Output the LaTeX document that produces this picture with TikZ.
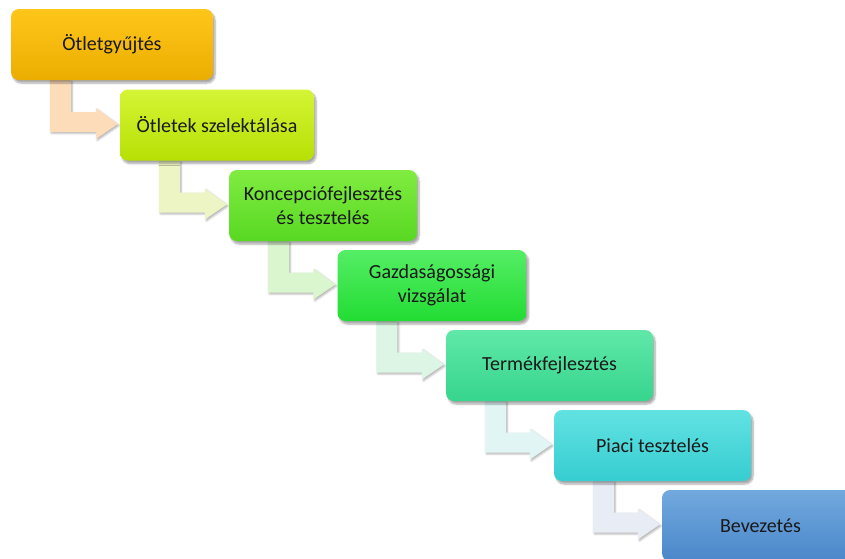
\documentclass[tikz,border=0pt]{standalone}
\usepackage{fontspec}
\setmainfont{Carlito}
\usetikzlibrary{calc,shadows.blur}

% stage fills (top / bottom of the gradient)
\definecolor{s1t}{HTML}{FFC61A}\definecolor{s1b}{HTML}{EBAE00}
\definecolor{s2t}{HTML}{D4F535}\definecolor{s2b}{HTML}{B7E005}
\definecolor{s3t}{HTML}{80EC40}\definecolor{s3b}{HTML}{58D823}
\definecolor{s4t}{HTML}{55EE65}\definecolor{s4b}{HTML}{22DC33}
\definecolor{s5t}{HTML}{60E8A8}\definecolor{s5b}{HTML}{36D58D}
\definecolor{s6t}{HTML}{62E2E2}\definecolor{s6b}{HTML}{36CDD1}
\definecolor{s7t}{HTML}{72A9DE}\definecolor{s7b}{HTML}{4A87CA}
% bent connector fills
\definecolor{a1}{HTML}{FDDDB9}
\definecolor{a2}{HTML}{EEF5C5}
\definecolor{a3}{HTML}{DAF6CF}
\definecolor{a4}{HTML}{DDF5E4}
\definecolor{a5}{HTML}{E1F5F5}
\definecolor{a6}{HTML}{E8ECF5}

\pgfdeclarelayer{background}
\pgfsetlayers{background,main}

\tikzset{
  stagebox/.style n args={3}{rounded corners=8pt, minimum width=#1pt,
    minimum height=71pt, align=center, inner sep=0pt,
    top color=#2, bottom color=#3, draw=none,
    font=\fontsize{20}{24}\selectfont, text=black!90,
    blur shadow={shadow xshift=2pt, shadow yshift=-3pt, shadow blur steps=6,
      shadow opacity=35}},
  bentarrow/.style={fill=#1, draw=none,
    blur shadow={shadow xshift=1.5pt, shadow yshift=-1.5pt, shadow blur steps=3,
      shadow opacity=30}},
}

% bent arrow from the bottom of box #1 to the left side of box #2
\newcommand{\bendconn}[3]{%
  \fill[bentarrow=#3] let \p1=(#1.south west), \p2=(#2.west) in
    (\x1+39pt,\y1) -- (\x1+60pt,\y1) -- (\x1+60pt,\y2+13pt)
    -- (\x2-24pt,\y2+13pt) -- (\x2-24pt,\y2+17pt) -- (\x2-2pt,\y2+1pt)
    -- (\x2-24pt,\y2-14pt) -- (\x2-24pt,\y2-7pt) -- (\x1+39pt,\y2-7pt) -- cycle;}

\begin{document}
\begin{tikzpicture}[x=1pt,y=-1pt]
\useasboundingbox (0,0) rectangle (845,558);

\node[stagebox={202}{s1t}{s1b}] (n1) at (112,44.5) {Ötletgyűjtés};
\node[stagebox={194}{s2t}{s2b}] (n2) at (217,125) {Ötletek szelektálása};
\node[stagebox={188}{s3t}{s3b}] (n3) at (323,205.5) {Koncepciófejlesztés\\és tesztelés};
\node[stagebox={189}{s4t}{s4b}] (n4) at (432,285.5) {Gazdaságossági\\vizsgálat};
\node[stagebox={207}{s5t}{s5b}] (n5) at (549.5,365.5) {Termékfejlesztés};
\node[stagebox={197}{s6t}{s6b}] (n6) at (652.5,445.5) {Piaci tesztelés};
\node[stagebox={197}{s7t}{s7b}] (n7) at (760.5,525.5) {Bevezetés};

\begin{pgfonlayer}{background}
  \bendconn{n1}{n2}{a1}
  \bendconn{n2}{n3}{a2}
  \bendconn{n3}{n4}{a3}
  \bendconn{n4}{n5}{a4}
  \bendconn{n5}{n6}{a5}
  \bendconn{n6}{n7}{a6}
\end{pgfonlayer}
\end{tikzpicture}
\end{document}
